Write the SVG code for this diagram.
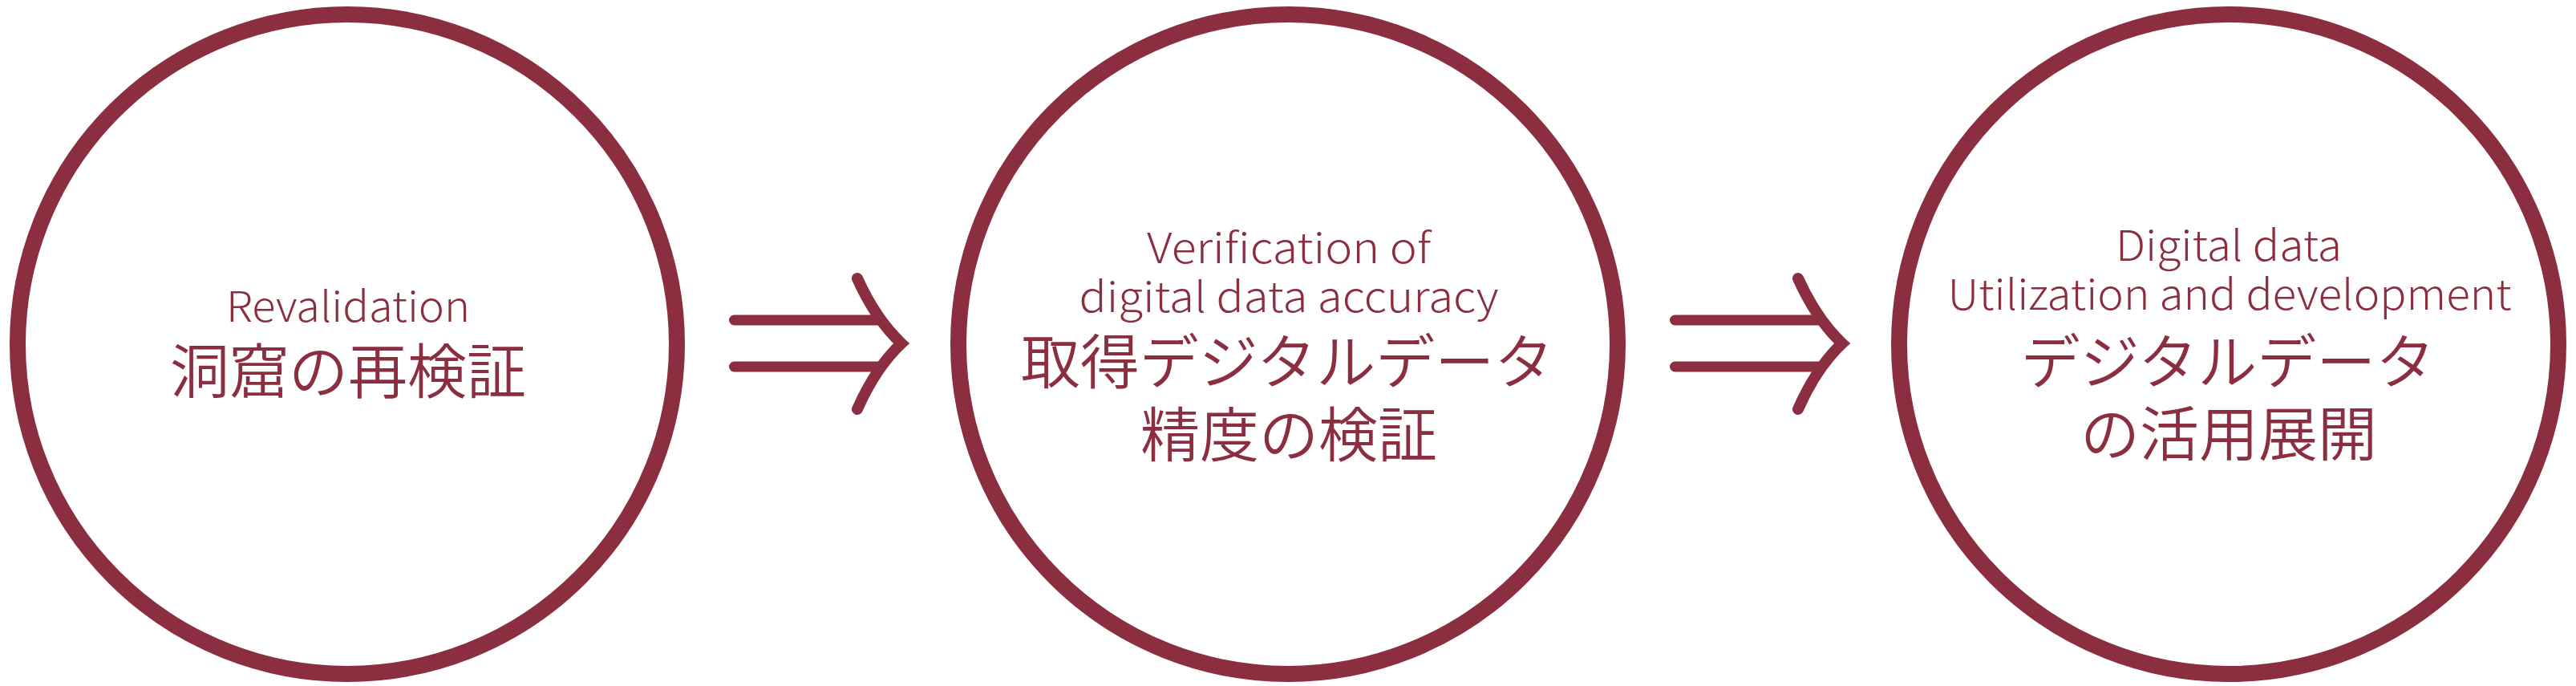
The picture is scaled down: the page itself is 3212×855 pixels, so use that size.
<svg xmlns="http://www.w3.org/2000/svg" width="3212" height="855" viewBox="0 0 3212 855">
<style>
.ring{fill:#fff;stroke:#8B2E40;stroke-width:20}
.en{font-family:"Noto Sans CJK JP","Noto Sans",sans-serif;font-weight:300;font-size:52px;fill:#8B2E40;text-anchor:middle}
.jp{font-family:"Noto Sans CJK JP",sans-serif;font-weight:350;font-size:74px;fill:#8B2E40;text-anchor:middle}
.shaft{stroke:#8B2E40;stroke-width:13;stroke-linecap:round;fill:none}
.head{stroke:#8B2E40;stroke-width:14;stroke-linecap:round;stroke-linejoin:miter;stroke-miterlimit:6;fill:none}
</style>
<rect width="3212" height="855" fill="#fff"/>
<g id="node1">
<circle class="ring" cx="433" cy="429" r="411"/>
<text class="en" x="434" y="401" textLength="304" lengthAdjust="spacingAndGlyphs">Revalidation</text>
<text class="jp" x="434" y="490">洞窟の再検証</text>
</g>
<g id="node2">
<circle class="ring" cx="1606" cy="429" r="411"/>
<text class="en" x="1607" y="328" textLength="354" lengthAdjust="spacingAndGlyphs">Verification of</text>
<text class="en" x="1607" y="389" textLength="523" lengthAdjust="spacingAndGlyphs">digital data accuracy</text>
<text class="jp" x="1605" y="478">取得デジタルデータ</text>
<text class="jp" x="1607" y="569">精度の検証</text>
</g>
<g id="node3">
<circle class="ring" cx="2779" cy="429" r="411"/>
<text class="en" x="2779" y="325" textLength="282" lengthAdjust="spacingAndGlyphs">Digital data</text>
<text class="en" x="2780" y="386" textLength="703" lengthAdjust="spacingAndGlyphs">Utilization and development</text>
<text class="jp" x="2778" y="478">デジタルデータ</text>
<text class="jp" x="2779" y="568">の活用展開</text>
</g>
<g id="connectors">
<g id="arrow1">
<path class="shaft" d="M915.5,399 H1096 M915.5,457 H1096"/>
<path class="head" d="M1069,347 Q1092,398 1124,428 Q1092,458 1069,510"/>
</g>
<g id="arrow2">
<path class="shaft" d="M2088.5,399 H2269 M2088.5,457 H2269"/>
<path class="head" d="M2242,347 Q2265,398 2297,428 Q2265,458 2242,510"/>
</g>
</g>
</svg>
